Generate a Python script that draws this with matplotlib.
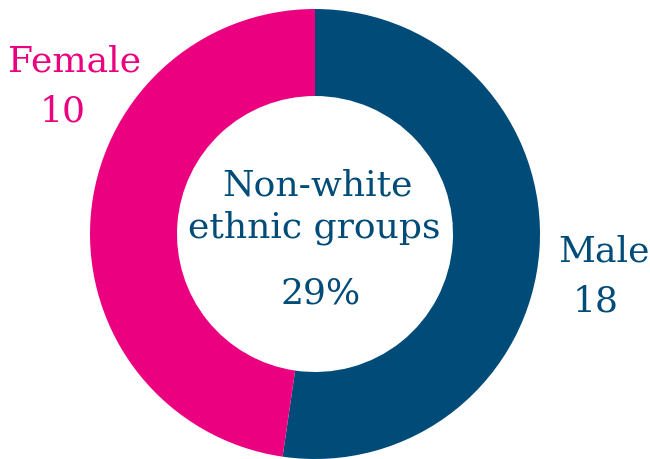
# Donut chart: gender split within non-white ethnic groups

import matplotlib.pyplot as plt

# --- Data ---
categories = ['Male', 'Female']
counts = [18, 10]                 # numbers printed on the labels
shares = [52.3, 47.7]             # slice sizes as drawn in the reference
centre_lines = ['Non-white', 'ethnic groups']
centre_value = '29%'

# --- Style ---
color_male = '#004B78'
color_female = '#EB0080'
font = 'DejaVu Serif'
fsize = 26

fig = plt.figure(figsize=(6.5, 4.59), dpi=100)
W, H = 650, 459

# put the pie axes so the ring fills the picture height
cx, cy, r, r_in = 315, 234, 225, 138
ax = fig.add_axes([(cx - r) / W, (H - cy - r) / H, 2 * r / W, 2 * r / H])
ax.pie(shares, colors=[color_male, color_female], startangle=90, counterclock=False,
       radius=1, wedgeprops=dict(width=1 - r_in / r, linewidth=0))
ax.set_xlim(-1, 1)
ax.set_ylim(-1, 1)
ax.set_aspect('equal')
ax.axis('off')

def px_text(x, y, s, color, size=fsize):
    fig.text(x / W, 1 - y / H, s, color=color, fontsize=size, family=font,
             ha='center', va='center')

px_text(318, 186, centre_lines[0], color_male)
px_text(314, 228, centre_lines[1], color_male)
px_text(321, 294, centre_value, color_male)

px_text(604, 251, categories[0], color_male)
px_text(596, 301, str(counts[0]), color_male)
px_text(75, 61, categories[1], color_female)
px_text(63, 111, str(counts[1]), color_female)

plt.savefig('out.png', dpi=100)
